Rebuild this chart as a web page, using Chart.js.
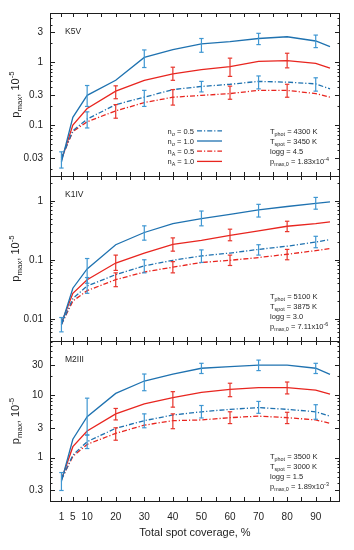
<!DOCTYPE html>
<html>
<head>
<meta charset="utf-8">
<script src="https://cdn.jsdelivr.net/npm/chart.js@4.4.0/dist/chart.umd.min.js"></script>
<style>
  html, body { margin: 0; padding: 0; background: #fff; }
  #wrap { position: relative; width: 354px; height: 550px; }
  canvas { position: absolute; left: 0; top: 0; }
</style>
</head>
<body>
<div id="wrap">
  <canvas id="c0" width="354" height="550"></canvas>
  <canvas id="c1" width="354" height="550"></canvas>
  <canvas id="c2" width="354" height="550"></canvas>
</div>
<script>
// x positions of the model points (total spot coverage, %)
const coverage = [1, 5, 10, 20, 30, 40, 50, 60, 70, 80, 90, 95];
const xTickLabels = [1, 5, 10, 20, 30, 40, 50, 60, 70, 80, 90];
const xTickMarks = [1, 5, 10, 15, 20, 25, 30, 35, 40, 45, 50, 55, 60, 65, 70, 75, 80, 85, 90, 95];

// where the error bars sit
const errBlueSolidX = [1, 10, 30, 50, 70, 90];
const errBlueDashX = [10, 30, 50, 70, 90];
const errRedX = [20, 40, 60, 80];

// K5V
const k5vSig05 = [0.030, 0.082, 0.126, 0.214, 0.28, 0.37, 0.415, 0.45, 0.50, 0.486, 0.456, 0.38];
const k5vSig10 = [0.026, 0.134, 0.30, 0.52, 1.2, 1.6, 1.97, 2.14, 2.4, 2.56, 2.19, 1.78];
const k5vA05 = [0.030, 0.080, 0.114, 0.17, 0.23, 0.28, 0.30, 0.32, 0.36, 0.36, 0.32, 0.28];
const k5vA10 = [0.028, 0.101, 0.185, 0.35, 0.52, 0.66, 0.77, 0.86, 1.04, 1.07, 0.97, 0.81];
const k5vSig10Lo = [0.021, 0.20, 0.83, 1.45, 1.92, 1.72];
const k5vSig10Hi = [0.038, 0.43, 1.58, 2.4, 2.9, 2.72];
const k5vSig05Lo = [0.091, 0.20, 0.34, 0.38, 0.35];
const k5vSig05Hi = [0.164, 0.36, 0.50, 0.61, 0.57];
const k5vA10Lo = [0.265, 0.52, 0.60, 0.82];
const k5vA10Hi = [0.425, 0.84, 1.17, 1.4];
const k5vA05Lo = [0.13, 0.21, 0.26, 0.28];
const k5vA05Hi = [0.214, 0.37, 0.42, 0.45];

// K1IV
const k1ivSig05 = [0.008, 0.022, 0.036, 0.056, 0.079, 0.098, 0.116, 0.13, 0.15, 0.17, 0.20, 0.22];
const k1ivSig10 = [0.008, 0.033, 0.07, 0.18, 0.29, 0.41, 0.50, 0.59, 0.70, 0.80, 0.90, 0.96];
const k1ivA05 = [0.008, 0.020, 0.030, 0.046, 0.062, 0.075, 0.090, 0.098, 0.109, 0.124, 0.143, 0.155];
const k1ivA10 = [0.0085, 0.027, 0.046, 0.088, 0.13, 0.183, 0.214, 0.26, 0.31, 0.37, 0.41, 0.44];
const k1ivSig10Lo = [0.006, 0.04, 0.215, 0.376, 0.53, 0.72];
const k1ivSig10Hi = [0.0105, 0.105, 0.376, 0.67, 0.87, 1.14];
const k1ivSig05Lo = [0.027, 0.06, 0.09, 0.12, 0.16];
const k1ivSig05Hi = [0.05, 0.10, 0.147, 0.18, 0.25];
const k1ivA10Lo = [0.066, 0.14, 0.21, 0.30];
const k1ivA10Hi = [0.12, 0.235, 0.33, 0.45];
const k1ivA05Lo = [0.035, 0.06, 0.08, 0.10];
const k1ivA05Hi = [0.06, 0.093, 0.12, 0.15];

// M2III
const m2iiiSig05 = [0.45, 1.1, 1.8, 2.94, 3.9, 4.8, 5.4, 5.9, 6.3, 5.9, 5.4, 4.6];
const m2iiiSig10 = [0.42, 1.97, 4.5, 10.6, 16.7, 21.6, 26.7, 28.3, 30, 30, 26.7, 21.3];
const m2iiiA05 = [0.45, 1.05, 1.63, 2.45, 3.3, 3.9, 4.0, 4.35, 4.6, 4.35, 4.0, 3.54];
const m2iiiA10 = [0.45, 1.5, 2.67, 5.0, 7.2, 9.1, 11, 12.3, 13.1, 13.1, 12, 10.3];
const m2iiiSig10Lo = [0.3, 2.3, 11.7, 22, 24.5, 22];
const m2iiiSig10Hi = [0.58, 8.9, 21.6, 32, 36, 32];
const m2iiiSig05Lo = [1.4, 3.0, 4.3, 5.1, 4.1];
const m2iiiSig05Hi = [2.3, 5.0, 6.8, 7.9, 7.0];
const m2iiiA10Lo = [4.0, 6.4, 9.4, 10.4];
const m2iiiA10Hi = [6.1, 11.3, 15.4, 16.1];
const m2iiiA05Lo = [1.9, 2.9, 3.5, 3.5];
const m2iiiA05Hi = [3.0, 5.0, 5.4, 5.3];

// panel texts
const starNames = ['K5V', 'K1IV', 'M2III'];
const tPhot = ['4300', '5100', '3500'];
const tSpot = ['3450', '3875', '3000'];
const loggs = ['4.5', '3.0', '1.5'];
const pmaxMant = ['1.83', '7.11', '1.89'];
const pmaxExp = ['-4', '-6', '-3'];
const yLabelled = [[0.03, 0.1, 0.3, 1, 3], [0.01, 0.1, 1], [0.3, 1, 3, 10, 30]];
const yRanges = [[0.0157, 6.1], [0.0042, 2.63], [0.204, 72.6]];

const BLUE = '#1f72b0';
const BLUE_ERR = '#3f97d2';
const RED = '#e8251f';
const RED_ERR = '#e8352c';
const INK = '#1e1e1e';
const DASHDOT = [5, 2, 1.2, 2];
const FONT = '"Liberation Sans", Arial, Helvetica, sans-serif';

function lineSet(vals, color, dashed) {
  return {
    data: coverage.map((x, i) => ({ x, y: vals[i] })),
    borderColor: color,
    borderWidth: 1.3,
    borderDash: dashed ? DASHDOT : [],
    pointRadius: 0,
    tension: 0
  };
}

// one dataset per series of error bars; nulls break the line between bars
function errSet(xs, lo, hi, color) {
  const data = [];
  xs.forEach((x, i) => {
    data.push({ x, y: lo[i] }, { x, y: hi[i] }, { x, y: null });
  });
  return {
    data,
    borderColor: color,
    borderWidth: 1.2,
    pointStyle: 'line',
    pointRadius: 2.2,
    pointBorderWidth: 1.2,
    pointBorderColor: color,
    spanGaps: false
  };
}

function logTicks(min, max) {
  const out = [];
  for (let e = Math.floor(Math.log10(min)); e <= Math.ceil(Math.log10(max)); e++) {
    for (let m = 1; m <= 9; m++) {
      const v = Number((m * Math.pow(10, e)).toPrecision(3));
      if (v >= min && v <= max) out.push(v);
    }
  }
  return out;
}

// text with subscript ('b') / superscript ('p') parts
function drawRich(ctx, parts, x, y, size, align) {
  const sz = k => (k === 'n' ? size : size * 0.72);
  let w = 0;
  parts.forEach(([t, k]) => {
    ctx.font = sz(k) + 'px ' + FONT;
    w += ctx.measureText(t).width;
  });
  let cx = align === 'center' ? x - w / 2 : x;
  ctx.textAlign = 'left';
  ctx.textBaseline = 'alphabetic';
  parts.forEach(([t, k]) => {
    ctx.font = sz(k) + 'px ' + FONT;
    const dy = k === 'b' ? size * 0.3 : k === 'p' ? -size * 0.42 : 0;
    ctx.fillText(t, cx, y + dy);
    cx += ctx.measureText(t).width;
  });
}

const legendRows = [
  { parts: [['n', 'n'], ['\u03c3', 'b'], [' = 0.5', 'n']], color: BLUE, dash: true },
  { parts: [['n', 'n'], ['\u03c3', 'b'], [' = 1.0', 'n']], color: BLUE, dash: false },
  { parts: [['n', 'n'], ['A', 'b'], [' = 0.5', 'n']], color: RED, dash: true },
  { parts: [['n', 'n'], ['A', 'b'], [' = 1.0', 'n']], color: RED, dash: false }
];

const panelPlugin = {
  id: 'panel',
  afterDraw(chart, args, opts) {
    const { ctx, chartArea: a } = chart;
    const xs = chart.scales.x, ys = chart.scales.y;
    const k = opts.index;
    ctx.save();
    ctx.strokeStyle = INK;
    ctx.fillStyle = INK;
    ctx.lineWidth = 1;

    // inward tick marks on all four sides
    ctx.beginPath();
    xTickMarks.forEach(v => {
      const px = Math.round(xs.getPixelForValue(v)) + 0.5;
      ctx.moveTo(px, a.top); ctx.lineTo(px, a.top + 4);
      ctx.moveTo(px, a.bottom); ctx.lineTo(px, a.bottom - 4);
    });
    ys.ticks.forEach(t => {
      const py = Math.round(ys.getPixelForValue(t.value)) + 0.5;
      const lab = yLabelled[k].some(l => Math.abs(l - t.value) < 1e-9 * l);
      const dec = Math.abs(Math.log10(t.value) - Math.round(Math.log10(t.value))) < 1e-6;
      const len = (lab || dec) ? 5 : 2.5;
      ctx.moveTo(a.left, py); ctx.lineTo(a.left + len, py);
      ctx.moveTo(a.right, py); ctx.lineTo(a.right - len, py);
    });
    ctx.stroke();
    ctx.strokeRect(a.left + 0.5, a.top + 0.5, a.right - a.left - 1, a.bottom - a.top);

    // star name
    ctx.font = '8.5px ' + FONT;
    ctx.textAlign = 'left';
    ctx.textBaseline = 'alphabetic';
    ctx.fillText(starNames[k], 65, a.top + 20.5);

    // parameters block
    const rows = [a.bottom - 42.5, a.bottom - 32.3, a.bottom - 22.1, a.bottom - 11.9];
    const px = 270;
    drawRich(ctx, [['T', 'n'], ['phot', 'b'], [' = ' + tPhot[k] + ' K', 'n']], px, rows[0], 7.5);
    drawRich(ctx, [['T', 'n'], ['spot', 'b'], [' = ' + tSpot[k] + ' K', 'n']], px, rows[1], 7.5);
    drawRich(ctx, [['logg = ' + loggs[k], 'n']], px, rows[2], 7.5);
    drawRich(ctx, [['p', 'n'], ['max,0', 'b'], [' = ' + pmaxMant[k] + 'x10', 'n'], [pmaxExp[k], 'p']], px, rows[3], 7.5);

    // legend, first panel only
    if (opts.legend) {
      legendRows.forEach((r, i) => {
        ctx.fillStyle = INK;
        drawRich(ctx, r.parts, 167.5, rows[i], 7.5);
        ctx.beginPath();
        ctx.strokeStyle = r.color;
        ctx.lineWidth = 1.3;
        ctx.setLineDash(r.dash ? DASHDOT : []);
        ctx.moveTo(197, rows[i] - 2.7);
        ctx.lineTo(222, rows[i] - 2.7);
        ctx.stroke();
      });
      ctx.setLineDash([]);
    }

    // y title, rotated
    ctx.fillStyle = INK;
    ctx.translate(18.5, (a.top + a.bottom) / 2);
    ctx.rotate(-Math.PI / 2);
    drawRich(ctx, [['p', 'n'], ['max', 'b'], [', 10', 'n'], ['-5', 'p']], 0, 0, 11, 'center');
    ctx.restore();
  }
};

function makePanel(canvasId, k, series, padTop, padBottom, isBottom) {
  const [s05, s10, a05, a10, s10lo, s10hi, s05lo, s05hi, a10lo, a10hi, a05lo, a05hi] = series;
  const datasets = [
    errSet(errBlueSolidX, s10lo, s10hi, BLUE_ERR),
    errSet(errBlueDashX, s05lo, s05hi, BLUE_ERR),
    errSet(errRedX, a10lo, a10hi, RED_ERR),
    errSet(errRedX, a05lo, a05hi, RED_ERR),
    lineSet(s10, BLUE, false),
    lineSet(s05, BLUE, true),
    lineSet(a10, RED, false),
    lineSet(a05, RED, true)
  ];
  return new Chart(document.getElementById(canvasId), {
    type: 'line',
    data: { datasets },
    options: {
      responsive: false,
      animation: false,
      events: [],
      layout: { padding: { top: padTop, bottom: padBottom, left: 0, right: 14 } },
      plugins: {
        legend: { display: false },
        tooltip: { enabled: false },
        panel: { index: k, legend: k === 0 }
      },
      scales: {
        x: {
          type: 'linear',
          min: -3,
          max: 98.5,
          display: isBottom,
          grid: { display: false, drawTicks: false },
          border: { display: false },
          afterBuildTicks: s => { s.ticks = xTickLabels.map(v => ({ value: v })); },
          afterFit: s => { s.height = isBottom ? 49 : 0; },
          ticks: {
            autoSkip: false,
            maxRotation: 0,
            padding: 10,
            color: INK,
            font: { family: FONT, size: 10 },
            callback: v => String(v)
          },
          title: {
            display: true,
            text: 'Total spot coverage, %',
            color: INK,
            font: { family: FONT, size: 11 },
            padding: { top: 2, bottom: 10 }
          }
        },
        y: {
          type: 'logarithmic',
          min: yRanges[k][0],
          max: yRanges[k][1],
          grid: { display: false, drawTicks: false },
          border: { display: false },
          afterBuildTicks: s => { s.ticks = logTicks(yRanges[k][0], yRanges[k][1]).map(v => ({ value: v })); },
          afterFit: s => { s.width = 50; },
          ticks: {
            autoSkip: false,
            padding: 7,
            color: INK,
            font: { family: FONT, size: 10 },
            callback: v => (yLabelled[k].some(l => Math.abs(l - v) < 1e-9 * l) ? String(v) : '')
          }
        }
      }
    },
    plugins: [panelPlugin]
  });
}

makePanel('c0', 0, [k5vSig05, k5vSig10, k5vA05, k5vA10, k5vSig10Lo, k5vSig10Hi, k5vSig05Lo, k5vSig05Hi, k5vA10Lo, k5vA10Hi, k5vA05Lo, k5vA05Hi], 11, 374, false);
makePanel('c1', 1, [k1ivSig05, k1ivSig10, k1ivA05, k1ivA10, k1ivSig10Lo, k1ivSig10Hi, k1ivSig05Lo, k1ivSig05Hi, k1ivA10Lo, k1ivA10Hi, k1ivA05Lo, k1ivA05Hi], 176, 209, false);
makePanel('c2', 2, [m2iiiSig05, m2iiiSig10, m2iiiA05, m2iiiA10, m2iiiSig10Lo, m2iiiSig10Hi, m2iiiSig05Lo, m2iiiSig05Hi, m2iiiA10Lo, m2iiiA10Hi, m2iiiA05Lo, m2iiiA05Hi], 341, 0, true);
</script>
</body>
</html>
